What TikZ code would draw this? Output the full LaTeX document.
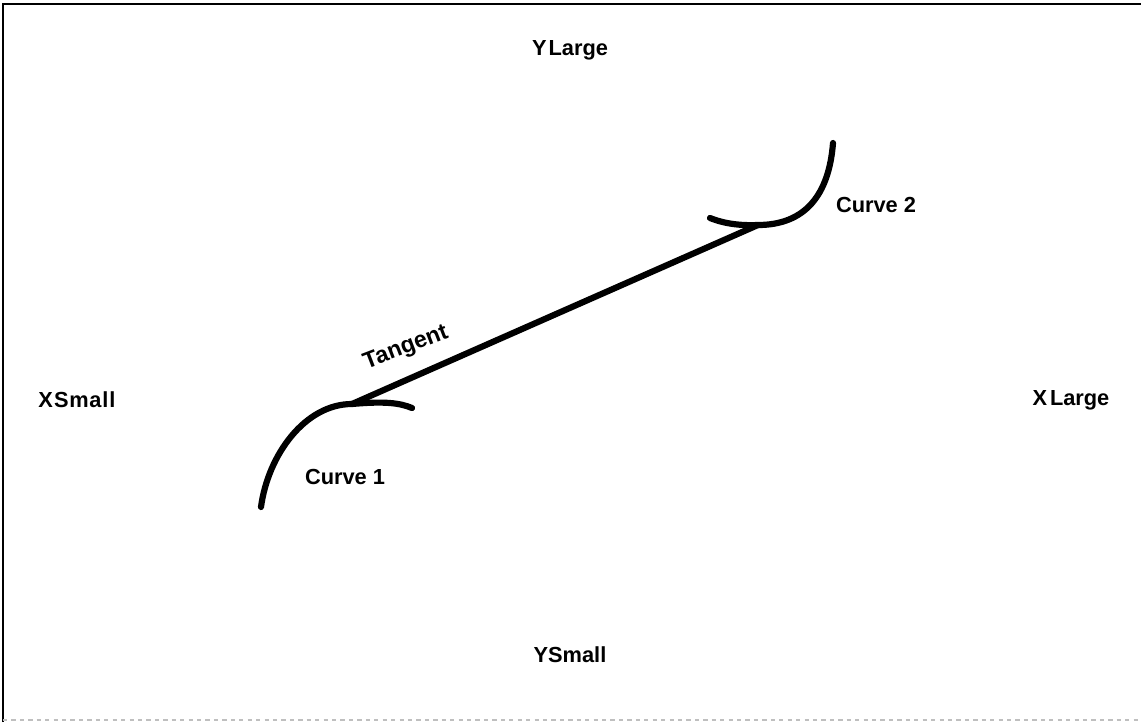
\documentclass[tikz,border=0pt]{standalone}
\usepackage{fontspec}
\setmainfont{Liberation Sans}
\tikzset{
	curve/.style = {line width = 4.4pt, line cap = round},
	lbl/.style = {font = \fontsize{15.5}{18}\selectfont\bfseries, inner sep = 0pt}
}
\begin{document}
\begin{tikzpicture}[x = 0.025cm, y = -0.025cm]
\useasboundingbox (0,0) rectangle (1141,722);
% frame
\draw[line width = 1pt] (3,722) -- (3,4) -- (1141,4);
\draw[line width = 0.8pt, gray!50, dashed] (3,720) -- (1141,720);
% axis labels
\node[lbl] (ylarge) at (570,50) {Y\kern1.5pt Large};
\node[lbl] (ysmall) at (570,655) {YSmall};
\node[lbl] (xsmall) at (77,400) {X\kern0.8pt S\kern0.5pt m\kern0.5pt a\kern0.5pt l\kern0.8pt l};
\node[lbl] (xlarge) at (1071,400) {X\kern2pt Large};
% the two curves
\coordinate (t1) at (352,404);
\coordinate (t2) at (758,225);
\draw[curve] (261,507) .. controls (268,455) and (305,404) .. (t1)
	.. controls (385,401) and (400,403) .. (412,408);
\draw[curve] (833,143) .. controls (829,195) and (805,225) .. (t2)
	.. controls (735,226) and (720,222) .. (710,218);
\node[lbl] (c1) at (345,477) {Curve 1};
\node[lbl] (c2) at (876,205) {Curve 2};
% tangent
\draw[curve] (t1) -- (t2);
\node[lbl, font = \fontsize{16.5}{18}\selectfont\bfseries, rotate = 21] (tan) at (406,348) {Tangent};
\end{tikzpicture}
\end{document}
